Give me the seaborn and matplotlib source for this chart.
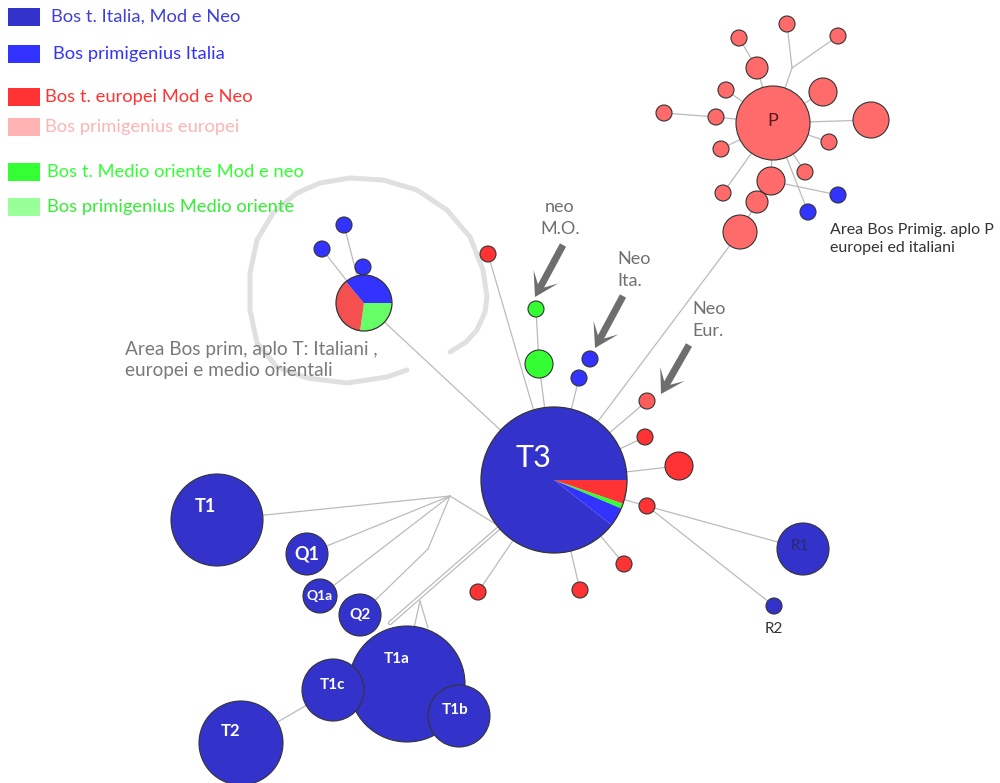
import numpy as np
import pandas as pd
import matplotlib
matplotlib.use("Agg")
import matplotlib.pyplot as plt
import seaborn as sns
from matplotlib.patches import Wedge, Rectangle, Polygon

# colours
DBLUE = '#3333CC'
BBLUE = '#3333FF'
RED = '#FF3333'
LRED = '#FF5C5C'
SALMON = '#FF6B6B'
PINK = '#FFB3B3'
GREEN = '#33FF33'
LGREEN = '#66FF66'

# network nodes (pixel layout of the original drawing)
node_name = ['T1a', 'T1c', 'T1b', 'T2', 'T1', 'Q1', 'Q1a', 'Q2',
             'b1', 'b2', 'b3', 'rtop', 'g1', 'g2', 'bi1', 'bi2',
             're1', 're2', 're3', 're4', 're5', 're6', 're7', 'R1', 'R2',
             'P', 'p1', 'p2', 'p3', 'p4', 'p5', 'p6', 'p7', 'p8', 'p9', 'p10',
             'p11', 'p12', 'p13', 'p14', 'p15', 'p16', 'pb1', 'pb2']
node_x = [407, 333, 459, 241, 217, 307, 320, 360,
          344, 322, 363, 488, 536, 539, 590, 579,
          647, 645, 679, 647, 624, 580, 478, 803, 774,
          773, 787, 838, 739, 757, 823, 726, 664, 716, 871, 721,
          829, 805, 771, 723, 757, 740, 838, 808]
node_y = [684, 690, 716, 743, 520, 554, 596, 615,
          225, 249, 267, 254, 309, 364, 359, 378,
          401, 437, 466, 506, 564, 590, 592, 549, 606,
          123, 24, 36, 38, 68, 92, 90, 113, 117, 120, 149,
          142, 172, 181, 193, 202, 232, 195, 212]
node_r = [58, 31, 31, 42, 46, 21, 17, 21,
          8, 8, 8, 8, 8, 14, 8, 8,
          8, 8, 14, 8, 8, 8, 8, 26, 8,
          37, 8, 8, 8, 11, 14, 8, 8, 8, 18, 8,
          8, 8, 14, 8, 11, 17, 8, 8]
node_col = [DBLUE] * 8 + [BBLUE] * 3 + [RED, GREEN, GREEN, BBLUE, BBLUE] + \
           [LRED, RED, RED, RED, RED, RED, RED, DBLUE, DBLUE] + \
           [SALMON] * 17 + [BBLUE, BBLUE]

# pie nodes: centre, radius, sector colours and angles (clockwise from right)
T3_xy, T3_r = (554, 480), 73
T3_cols = [RED, GREEN, BBLUE, DBLUE]
T3_angles = [0, 19, 23, 38, 360]
PIE_xy, PIE_r = (364, 303), 28
PIE_cols = [LGREEN, '#F55050', BBLUE]
PIE_angles = [0, 98, 230, 360]

# hidden junction points
junc_name = ['T3', 'PIE', 'J1', 'J2', 'J3', 'Ja', 'Jb', 'H2', 'JP']
junc_x = [554, 364, 450, 428, 420, 414, 428, 515, 792]
junc_y = [480, 303, 496, 549, 601, 628, 628, 536, 68]

edges = [('PIE', 'T3'), ('b1', 'PIE'), ('b2', 'PIE'), ('b3', 'PIE'), ('rtop', 'T3'),
         ('g1', 'g2'), ('g2', 'T3'), ('bi2', 'T3'), ('p16', 'T3'),
         ('T3', 're1'), ('T3', 're2'), ('T3', 're3'), ('T3', 're4'), ('re4', 'R1'),
         ('re4', 'R2'), ('T3', 're5'), ('T3', 're6'), ('T3', 're7'),
         ('J1', 'H2'), ('J1', 'T1'), ('J1', 'Q1'), ('J1', 'Q1a'), ('J1', 'J2'), ('J2', 'Q2'),
         ('J3', 'Ja'), ('J3', 'Jb'), ('T1c', 'T2'),
         ('P', 'JP'), ('JP', 'p1'), ('JP', 'p2'), ('P', 'p4'), ('p4', 'p3'), ('P', 'p6'),
         ('P', 'p8'), ('p8', 'p7'), ('P', 'p9'), ('P', 'p5'), ('P', 'p11'), ('P', 'p12'),
         ('P', 'p10'), ('P', 'p13'), ('p13', 'pb1'), ('P', 'pb2'), ('P', 'p14'),
         ('p16', 'p15'), ('p15', 'p13')]
double_edge = ('T3', (390, 623))

node_labels = ['T3', 'T1', 'Q1', 'Q1a', 'Q2', 'T1a', 'T1c', 'T1b', 'T2', 'R1', 'P', 'R2']
label_x = [533, 205, 307, 320, 360, 397, 333, 455, 231, 800, 773, 774]
label_y = [458, 507, 554, 596, 615, 659, 685, 710, 731, 546, 121, 629]
label_size = [22, 13, 13, 10, 11, 11, 11, 11, 12, 11, 13, 11]
label_col = ['white'] * 9 + ['#2A2A6A', '#5A1A1A', '#333333']

legend_text = ['Bos t. Italia, Mod e Neo', 'Bos primigenius Italia', 'Bos t. europei Mod e Neo',
               'Bos primigenius europei', 'Bos t. Medio oriente Mod e neo',
               'Bos primigenius Medio oriente']
legend_rect = [DBLUE, BBLUE, RED, PINK, GREEN, '#99FF99']
legend_tcol = ['#4040D8', BBLUE, RED, PINK, GREEN, '#33EE33']
legend_y = [17, 54, 97, 127, 172, 207]
legend_tx = [51, 53, 45, 45, 47, 47]

# arrows (start, end) and their notes
arrow_start = [(563, 245), (623, 296), (689, 345)]
arrow_end = [(535, 297), (595, 348), (661, 394)]
arrow_note = ['neo\nM.O.', 'Neo\nIta.', 'Neo\nEur.']
note_xy = [(560, 218), (617, 270), (692, 320)]
note_ha = ['center', 'left', 'left']

# hand drawn loop around the T cluster
loop_x = [450, 466, 477, 485, 487, 483, 470, 447, 417, 383, 350, 320, 297, 273, 257,
          250, 250, 257, 277, 307, 347, 387, 407]
loop_y = [352, 342, 330, 312, 297, 270, 237, 210, 190, 180, 178, 183, 193, 213, 240,
          273, 310, 343, 367, 378, 383, 377, 370]

sns.set_theme(style="white")
plt.rcParams['font.family'] = ['Lato', 'DejaVu Sans']

fig = plt.figure(figsize=(10, 7.83), dpi=100)
ax = fig.add_axes([0, 0, 1, 1])

pos = {n: (x, y) for n, x, y in zip(node_name, node_x, node_y)}
pos.update({n: (x, y) for n, x, y in zip(junc_name, junc_x, junc_y)})

# loop
ax.plot(loop_x, loop_y, color='#E0E0E0', lw=3.6, solid_joinstyle='round',
        solid_capstyle='round', zorder=0)

# edges
for a, b in edges:
    (x0, y0), (x1, y1) = pos[a], pos[b]
    ax.plot([x0, x1], [y0, y1], color='#BBBBBB', lw=0.9, zorder=1)
(x0, y0), (x1, y1) = pos[double_edge[0]], double_edge[1]
ax.plot([x0, x1], [y0, y1], color='#BBBBBB', lw=3.2, zorder=1)
ax.plot([x0, x1], [y0, y1], color='white', lw=1.4, zorder=1)

# plain nodes
nodes = pd.DataFrame({'name': node_name, 'x': node_x, 'y': node_y, 'r': node_r, 'col': node_col})
sizes = (1.44 * nodes['r']) ** 2
sns.scatterplot(data=nodes, x='x', y='y', hue='col', palette={c: c for c in set(node_col)},
                s=sizes.values, edgecolor='#333333', linewidth=0.8, legend=False, ax=ax, zorder=3)
ax.set_xlim(0, 1000)
ax.set_ylim(783, 0)
ax.axis('off')

# pie nodes
for (cx, cy), r, cols, ang in [(T3_xy, T3_r, T3_cols, T3_angles), (PIE_xy, PIE_r, PIE_cols, PIE_angles)]:
    for c, a0, a1 in zip(cols, ang[:-1], ang[1:]):
        ax.add_patch(Wedge((cx, cy), r, a0, a1, facecolor=c, edgecolor='none', zorder=3))
    ax.add_patch(plt.Circle((cx, cy), r, facecolor='none', edgecolor='#333333', lw=0.9, zorder=4))

# node labels
for t, x, y, fs, c in zip(node_labels, label_x, label_y, label_size, label_col):
    ax.text(x, y, t, ha='center', va='center', fontsize=fs, color=c,
            fontweight='bold' if c == 'white' and t != 'T3' else 'normal', zorder=5)

# arrows with a concave head
hl, hw, tw = 23, 28, 7
for s, e in zip(arrow_start, arrow_end):
    s, e = np.array(s, float), np.array(e, float)
    d = (e - s) / np.hypot(*(e - s))
    n = np.array([-d[1], d[0]])
    neck = e - d * hl * 0.55
    back = e - d * hl
    pts = [s + n * tw / 2, neck + n * tw / 2, back + n * hw / 2, e,
           back - n * hw / 2, neck - n * tw / 2, s - n * tw / 2]
    ax.add_patch(Polygon(pts, closed=True, facecolor='#6E6E6E', edgecolor='none', zorder=5))
for t, (x, y), ha in zip(arrow_note, note_xy, note_ha):
    ax.text(x, y, t, ha=ha, va='center', fontsize=13, color='#707070', linespacing=1.4)

# area notes
ax.text(125, 360, 'Area Bos prim, aplo T: Italiani ,\neuropei e medio orientali', ha='left',
        va='center', fontsize=13.7, color='#7A7A7A', linespacing=1.35)
ax.text(830, 239, 'Area Bos Primig. aplo P\neuropei ed italiani', ha='left', va='center',
        fontsize=11.5, color='#333333', linespacing=1.4)

# legend
for t, rc, tc, y, tx in zip(legend_text, legend_rect, legend_tcol, legend_y, legend_tx):
    ax.add_patch(Rectangle((8, y - 9), 32, 18, facecolor=rc, edgecolor='none'))
    ax.text(tx, y, t, ha='left', va='center', fontsize=13.2, color=tc)

fig.savefig('out.png', dpi=100)
